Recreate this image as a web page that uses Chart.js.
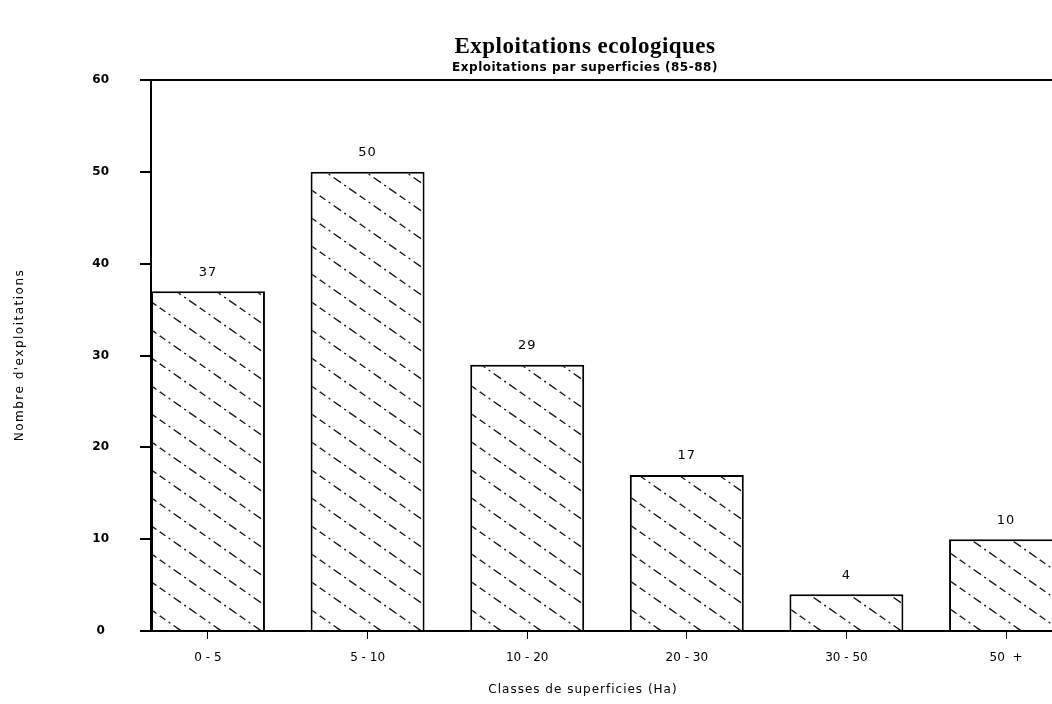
<!DOCTYPE html>
<html>
<head>
<meta charset="utf-8">
<script src="https://cdn.jsdelivr.net/npm/chart.js@4/dist/chart.umd.min.js"></script>
<style>
  html, body { margin: 0; padding: 0; background: #fff; overflow: hidden; }
  #wrap { width: 1052px; height: 704px; position: relative; }
</style>
</head>
<body>
<div id="wrap"><canvas id="c" width="1052" height="704"></canvas></div>
<script>
// Farm-size classes (hectares) and number of farms in each class
const categories = ['0 - 5', '5 - 10', '10 - 20', '20 - 30', '30 - 50', '50  +'];
const farmCounts = [37, 50, 29, 17, 4, 10];
const yTicks = [0, 10, 20, 30, 40, 50, 60];

const titleText = 'Exploitations ecologiques';
const subtitleText = 'Exploitations par superficies (85-88)';
const xTitleText = 'Classes de superficies (Ha)';
const yTitleText = "Nombre d'exploitations";

// Diagonal dash-dot hatching used as the bar fill
function makeHatch() {
  const w = 40, h = 28;
  const t = document.createElement('canvas');
  t.width = w; t.height = h;
  const g = t.getContext('2d');
  g.fillStyle = '#fff';
  g.fillRect(0, 0, w, h);
  g.strokeStyle = '#111';
  g.lineWidth = 1.3;
  g.setLineDash([9, 4, 2, 4]);
  for (const k of [-1, 0, 1]) {
    g.beginPath();
    g.moveTo(k * w - 2, -1.4);
    g.lineTo(k * w + w + 2, h + 1.4);
    g.stroke();
  }
  return g.createPattern(t, 'repeat');
}

// Frame top, value labels above bars, and the chart titles
const decorations = {
  id: 'decorations',
  afterDraw(chart) {
    const ctx = chart.ctx;
    const area = chart.chartArea;
    ctx.save();
    ctx.strokeStyle = '#000';
    ctx.lineWidth = 2;
    ctx.beginPath();
    ctx.moveTo(area.left, area.top);
    ctx.lineTo(area.right, area.top);
    ctx.stroke();

    ctx.fillStyle = '#000';
    ctx.textAlign = 'center';
    ctx.textBaseline = 'middle';

    const meta = chart.getDatasetMeta(0);
    ctx.letterSpacing = '1px';
    ctx.font = '13px "DejaVu Sans"';
    meta.data.forEach((bar, i) => {
      ctx.fillText(String(farmCounts[i]), bar.x, bar.y - 19);
    });

    ctx.letterSpacing = '0.5px';
    ctx.font = 'bold 23px "Liberation Serif"';
    ctx.fillText(titleText, 585, 47);

    ctx.font = 'bold 12px "DejaVu Sans"';
    ctx.fillText(subtitleText, 585, 68);

    ctx.letterSpacing = '1px';
    ctx.font = '12px "DejaVu Sans"';
    ctx.fillText(xTitleText, 583, 690);

    ctx.translate(20, 355);
    ctx.rotate(-Math.PI / 2);
    ctx.letterSpacing = '1.5px';
    ctx.font = '12px "DejaVu Sans"';
    ctx.fillText(yTitleText, 0, 0);
    ctx.restore();
  }
};

new Chart(document.getElementById('c'), {
  type: 'bar',
  data: {
    datasets: [{
      data: farmCounts.map((v, i) => ({ x: i, y: v })),
      backgroundColor: makeHatch(),
      borderColor: '#000',
      borderWidth: 2,
      barPercentage: 0.714,
      categoryPercentage: 1
    }]
  },
  options: {
    responsive: false,
    animation: false,
    events: [],
    layout: { padding: { top: 80, right: 0, left: 0, bottom: 0 } },
    plugins: {
      legend: { display: false },
      tooltip: { enabled: false },
      title: { display: false }
    },
    scales: {
      x: {
        type: 'linear',
        offset: false,
        min: -0.357,
        max: 5.288,
        afterFit(scale) { scale.height = 73; },
        afterBuildTicks(scale) { scale.ticks = categories.map((c, i) => ({ value: i })); },
        ticks: {
          callback: (v) => categories[v],
          color: '#000',
          font: { family: 'DejaVu Sans', size: 12 },
          padding: 12,
          maxRotation: 0,
          autoSkip: false
        },
        grid: { display: true, offset: false, drawOnChartArea: false, drawTicks: true, tickLength: 8, color: '#000', lineWidth: 1 },
        border: { display: true, color: '#000', width: 2 }
      },
      y: {
        min: 0,
        max: 60,
        afterFit(scale) { scale.width = 151; },
        afterBuildTicks(scale) { scale.ticks = yTicks.map(v => ({ value: v })); },
        ticks: {
          color: '#000',
          font: { family: 'DejaVu Sans', size: 12, weight: 'bold' },
          padding: 31,
          crossAlign: 'center'
        },
        grid: { display: true, drawOnChartArea: false, drawTicks: true, tickLength: 11, color: '#000', lineWidth: 2 },
        border: { display: true, color: '#000', width: 2 }
      }
    }
  },
  plugins: [decorations]
});
</script>
</body>
</html>
